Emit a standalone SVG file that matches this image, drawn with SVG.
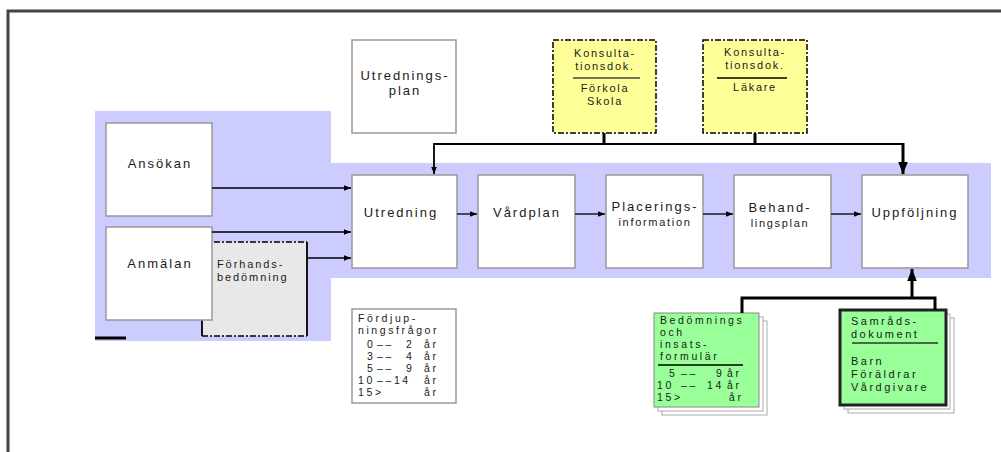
<svg xmlns="http://www.w3.org/2000/svg" width="1001" height="452" viewBox="0 0 1001 452">
<defs>
<style>
text{font-family:"Liberation Sans",Arial,sans-serif;fill:#1a1a1a;}
.lbl{font-size:13px;letter-spacing:2px;text-anchor:middle;}
.sm{font-size:11px;letter-spacing:1.9px;}
.sd{font-size:11px;letter-spacing:2.5px;}
.xs{font-size:10.5px;letter-spacing:2.6px;}
.smc{font-size:11px;letter-spacing:1.7px;text-anchor:middle;}
.box{fill:#fff;stroke:#999;stroke-width:1.5;}
.ln{stroke:#000;stroke-width:1.3;fill:none;}
.thk{stroke:#000;stroke-width:3;fill:none;}
.page{fill:#fff;stroke:#aaa;stroke-width:1;}
</style>
<marker id="ah" viewBox="0 0 10 10" refX="10" refY="5" markerWidth="7" markerHeight="7" markerUnits="userSpaceOnUse" orient="auto">
<path d="M0,1 L10,5 L0,9 z" fill="#000"/>
</marker>
<marker id="ahb" viewBox="0 0 10 10" refX="10" refY="5" markerWidth="4" markerHeight="4" orient="auto">
<path d="M0,1 L10,5 L0,9 z" fill="#000"/>
</marker>
</defs>
<rect width="1001" height="452" fill="#fff"/>
<path d="M8,452 V11 H1001" fill="none" stroke="#444" stroke-width="3"/>
<polygon points="95,111 331,111 331,163 991,163 991,278 331,278 331,341 95,341" fill="#ccccff"/>
<line x1="95" y1="338" x2="126" y2="338" stroke="#000" stroke-width="3"/>

<g id="forhandsbedomning">
<rect x="202" y="242" width="105" height="94" fill="#e8e8e8"/>
<path d="M202,242 H307 M202,336 H307" stroke="#000" stroke-width="1.5" stroke-dasharray="6,2,2,2" fill="none"/>
<path d="M307,242 V336 M202,242 V336" stroke="#000" stroke-width="1.8" fill="none"/>
<text class="sm" x="217" y="268">Förhands-</text>
<text class="sm" x="217" y="281">bedömning</text>
</g>
<g id="ansokan">
<rect class="box" x="106" y="123" width="106" height="93"/>
<text class="lbl" x="160" y="168">Ansökan</text>
</g>
<g id="anmalan">
<rect class="box" x="106" y="227" width="106" height="93"/>
<text class="lbl" x="160" y="268">Anmälan</text>
</g>

<g id="utredningsplan">
<rect class="box" x="352" y="40" width="104" height="93"/>
<text class="lbl" x="405" y="80">Utrednings-</text>
<text class="lbl" x="405" y="95">plan</text>
</g>
<g id="konsult1">
<rect x="553" y="40" width="103" height="93" fill="#ffff99"/>
<rect x="553" y="40" width="103" height="93" fill="none" stroke="#000" stroke-width="1.5" stroke-dasharray="6,2,2,2"/>
<text class="smc" x="605" y="57">Konsulta-</text>
<text class="smc" x="605" y="70">tionsdok.</text>
<line x1="573" y1="78" x2="640" y2="78" stroke="#444" stroke-width="1.5"/>
<text class="smc" x="605" y="92">Förkola</text>
<text class="smc" x="605" y="105">Skola</text>
</g>
<g id="konsult2">
<rect x="703" y="40" width="104" height="93" fill="#ffff99"/>
<rect x="703" y="40" width="104" height="93" fill="none" stroke="#000" stroke-width="1.5" stroke-dasharray="6,2,2,2"/>
<text class="smc" x="755" y="56">Konsulta-</text>
<text class="smc" x="755" y="69">tionsdok.</text>
<line x1="717" y1="78" x2="787" y2="78" stroke="#000" stroke-width="1.5"/>
<text class="smc" x="755" y="91">Läkare</text>
</g>

<g id="utredning">
<rect class="box" x="352" y="175" width="105" height="93"/>
<text class="lbl" x="401" y="217">Utredning</text>
</g>
<g id="vardplan">
<rect class="box" x="478" y="175" width="97" height="93"/>
<text class="lbl" x="527" y="217">Vårdplan</text>
</g>
<g id="placerings">
<rect class="box" x="606" y="175" width="97" height="93"/>
<text class="lbl" x="655" y="211">Placerings-</text>
<text class="smc" x="655" y="226">information</text>
</g>
<g id="behandlingsplan">
<rect class="box" x="734" y="175" width="97" height="93"/>
<text class="lbl" x="780" y="212">Behand-</text>
<text class="smc" x="780" y="227">lingsplan</text>
</g>
<g id="uppfoljning">
<rect class="box" x="862" y="175" width="106" height="93"/>
<text class="lbl" x="915" y="217">Uppföljning</text>
</g>

<g id="fordjupning">
<rect class="box" x="352" y="309" width="104" height="94"/>
<text class="xs" x="358" y="322">Fördjup-</text>
<text class="xs" x="358" y="334">ningsfrågor</text>
<text class="xs" y="348"><tspan x="367">0</tspan><tspan x="377">––</tspan><tspan x="406">2</tspan><tspan x="424">år</tspan></text>
<text class="xs" y="360"><tspan x="367">3</tspan><tspan x="377">––</tspan><tspan x="406">4</tspan><tspan x="424">år</tspan></text>
<text class="xs" y="372"><tspan x="367">5</tspan><tspan x="377">––</tspan><tspan x="406">9</tspan><tspan x="424">år</tspan></text>
<text class="xs" y="384"><tspan x="358">10</tspan><tspan x="377">––14</tspan><tspan x="424">år</tspan></text>
<text class="xs" y="396"><tspan x="358">15&gt;</tspan><tspan x="424">år</tspan></text>
</g>

<g id="bedomningsformular">
<rect class="page" x="662" y="321" width="105" height="94"/>
<rect class="page" x="658" y="317" width="105" height="94"/>
<rect x="654" y="313" width="105" height="94" fill="#99ff99" stroke="#888" stroke-width="1"/>
<text class="xs" x="660" y="324">Bedömnings</text>
<text class="xs" x="660" y="336">och</text>
<text class="xs" x="660" y="348">insats-</text>
<text class="xs" x="660" y="360">formulär</text>
<line x1="658" y1="365" x2="743" y2="365" stroke="#000" stroke-width="1.3"/>
<text class="xs" y="377"><tspan x="669">5</tspan><tspan x="681">––</tspan><tspan x="716">9</tspan><tspan x="727">år</tspan></text>
<text class="xs" y="389"><tspan x="657">10</tspan><tspan x="681">––</tspan><tspan x="707">14</tspan><tspan x="727">år</tspan></text>
<text class="xs" y="401"><tspan x="657">15&gt;</tspan><tspan x="729">år</tspan></text>
</g>

<g id="samradsdokument">
<rect class="page" x="848" y="318" width="106" height="95"/>
<rect class="page" x="844" y="314" width="106" height="95"/>
<rect x="840" y="310" width="106" height="95" fill="#99ff99" stroke="#222" stroke-width="3"/>
<text class="sd" x="851" y="325">Samråds-</text>
<text class="sd" x="851" y="338">dokument</text>
<line x1="852" y1="343" x2="938" y2="343" stroke="#333" stroke-width="1.5"/>
<text class="sd" x="851" y="365">Barn</text>
<text class="sd" x="851" y="378">Föräldrar</text>
<text class="sd" x="851" y="391">Vårdgivare</text>
</g>

<g id="connectors">
<line class="ln" x1="212" y1="188" x2="351" y2="188" marker-end="url(#ah)"/>
<line class="ln" x1="212" y1="232" x2="351" y2="232" marker-end="url(#ah)"/>
<line class="ln" x1="307" y1="258" x2="351" y2="258" marker-end="url(#ah)"/>
<line class="ln" x1="457" y1="214" x2="477" y2="214" marker-end="url(#ah)"/>
<line class="ln" x1="575" y1="214" x2="605" y2="214" marker-end="url(#ah)"/>
<line class="ln" x1="703" y1="214" x2="733" y2="214" marker-end="url(#ah)"/>
<line class="ln" x1="831" y1="214" x2="861" y2="214" marker-end="url(#ah)"/>
<path d="M903,144 H434 V174" stroke="#000" stroke-width="1.8" fill="none" marker-end="url(#ah)"/>
<line x1="604" y1="133" x2="604" y2="144" stroke="#000" stroke-width="3"/>
<line x1="755" y1="133" x2="755" y2="144" stroke="#000" stroke-width="3"/>
<line class="thk" x1="903" y1="143" x2="903" y2="174" marker-end="url(#ahb)"/>
<line class="thk" x1="912" y1="298" x2="912" y2="269" marker-end="url(#ahb)"/>
<path class="thk" d="M742,313 V298 H935 V310"/>
</g>
</svg>
